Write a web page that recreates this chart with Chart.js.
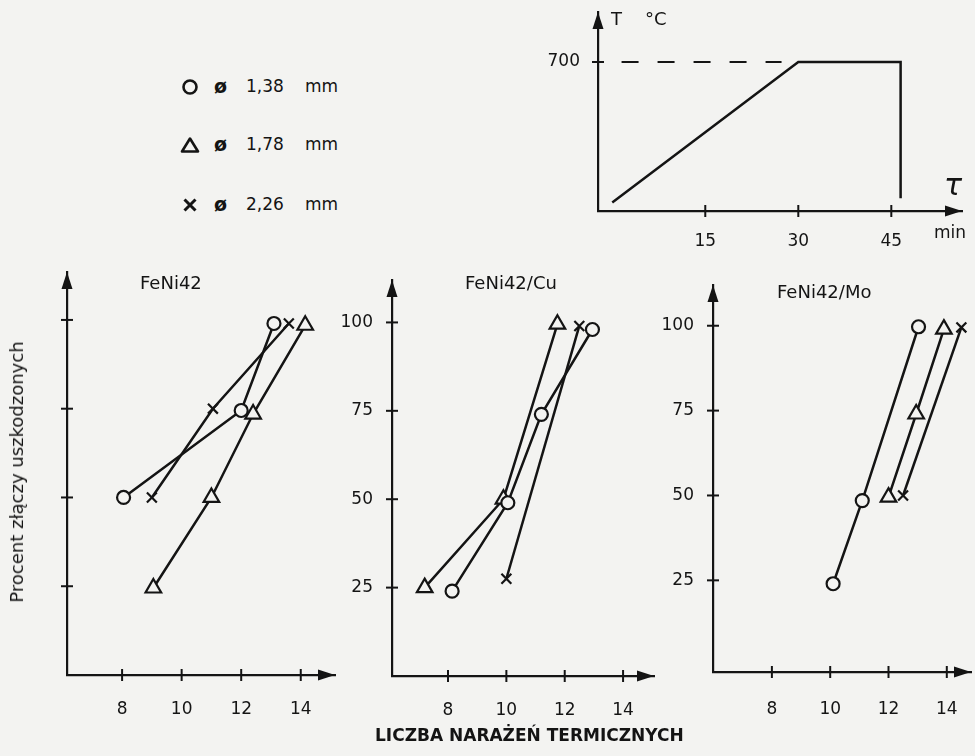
<!DOCTYPE html>
<html>
<head>
<meta charset="utf-8">
<script src="https://cdn.jsdelivr.net/npm/chart.js@4.4.1/dist/chart.umd.min.js"></script>
<style>
  html, body { margin:0; padding:0; }
  body { width:975px; height:756px; background:#f3f3f1; position:relative; overflow:hidden;
         font-family:"DejaVu Sans", sans-serif; color:#141414; }
  canvas { position:absolute; }
  .t { position:absolute; white-space:nowrap; line-height:1; }
  svg { position:absolute; }
</style>
</head>
<body>
<script>
// ---------- data ----------
const xTickValues = [8, 10, 12, 14];
const yTickValues = [25, 50, 75, 100];

const seriesNames = ['ø 1,38 mm', 'ø 1,78 mm', 'ø 2,26 mm'];

// FeNi42
const feni42_d138_x = [8.05, 12.0, 13.1];
const feni42_d138_y = [50, 74.5, 99];
const feni42_d178_x = [9.05, 11.0, 12.4, 14.15];
const feni42_d178_y = [24.5, 50, 73.5, 98.5];
const feni42_d226_x = [9.0, 11.05, 13.6];
const feni42_d226_y = [50, 75, 99];

// FeNi42/Cu
const cu_d138_x = [8.14, 10.05, 11.2, 12.95];
const cu_d138_y = [24, 49, 74, 98];
const cu_d178_x = [7.2, 9.9, 11.75];
const cu_d178_y = [25, 50, 99.5];
const cu_d226_x = [10.0, 12.5];
const cu_d226_y = [27.5, 99];

// FeNi42/Mo
const mo_d138_x = [10.1, 11.1, 13.03];
const mo_d138_y = [24, 48.5, 99.7];
const mo_d178_x = [12.0, 12.95, 13.9];
const mo_d178_y = [49.5, 74, 99];
const mo_d226_x = [12.5, 14.5];
const mo_d226_y = [50, 99.5];

// temperature profile (inset)
const profileTime = [0, 30, 46.5, 46.5];
const profileTemp = [40, 700, 700, 60];
const dashTime = [1.5, 27.3];
const dashTemp = [700, 700];
const insetXTicks = [15, 30, 45];
const insetYTicks = [700];

// ---------- styling ----------
const INK = '#141414';
const BG = '#f3f3f1';
const FONT = '"DejaVu Sans", sans-serif';

function pts(xs, ys) { return xs.map((x, i) => ({ x: x, y: ys[i] })); }

function seriesDS(xs, ys, style) {
  const r = style === 'triangle' ? 9 : (style === 'crossRot' ? 7 : 6.5);
  return {
    data: pts(xs, ys), showLine: true, borderColor: INK, borderWidth: 2.5,
    pointStyle: style, pointRadius: r, pointBorderWidth: 2.2,
    pointBorderColor: INK, pointBackgroundColor: BG, tension: 0
  };
}

const axisDeco = {
  id: 'axisDeco',
  afterDraw(chart, args, o) {
    const { ctx, chartArea: a, scales: { x, y } } = chart;
    ctx.save();
    ctx.strokeStyle = INK; ctx.fillStyle = INK; ctx.lineWidth = 2;
    y.ticks.forEach(t => {
      if (!o.yTicks.includes(t.value)) return;
      const p = y.getPixelForValue(t.value);
      ctx.beginPath(); ctx.moveTo(a.left - 6, p); ctx.lineTo(a.left + 6, p); ctx.stroke();
    });
    x.ticks.forEach(t => {
      if (!o.xTicks.includes(t.value)) return;
      const p = x.getPixelForValue(t.value);
      ctx.beginPath(); ctx.moveTo(p, a.bottom - 6); ctx.lineTo(p, a.bottom + 6); ctx.stroke();
    });
    const L = 17, W = 5.5;
    ctx.beginPath();
    ctx.moveTo(a.left, a.top); ctx.lineTo(a.left - W, a.top + L); ctx.lineTo(a.left + W, a.top + L); ctx.closePath(); ctx.fill();
    ctx.beginPath();
    ctx.moveTo(a.right, a.bottom); ctx.lineTo(a.right - L, a.bottom - W); ctx.lineTo(a.right - L, a.bottom + W); ctx.closePath(); ctx.fill();
    ctx.restore();
  }
};

function makeChart(area, xr, yr, datasets, xt, yt, showYLabels, fontSize, xPad, yPad) {
  const padL = 80, padT = 30, padR = 24, padB = 50;
  const c = document.createElement('canvas');
  const w = area.r - area.l + padL + padR;
  const h = area.b - area.t + padT + padB;
  c.width = w; c.height = h;
  c.style.width = w + 'px'; c.style.height = h + 'px';
  c.style.left = (area.l - padL) + 'px';
  c.style.top = (area.t - padT) + 'px';
  document.body.appendChild(c);
  return new Chart(c, {
    type: 'scatter',
    data: { datasets: datasets },
    options: {
      responsive: false, animation: false, devicePixelRatio: 1,
      layout: { padding: { top: padT, right: padR, left: 0, bottom: 0 }, autoPadding: false },
      plugins: { legend: { display: false }, tooltip: { enabled: false }, axisDeco: { xTicks: xt, yTicks: yt } },
      scales: {
        x: {
          type: 'linear', min: xr[0], max: xr[1],
          afterFit(s) { s.height = padB; },
          afterBuildTicks(s) { s.ticks = xt.map(v => ({ value: v })); },
          grid: { display: false },
          border: { display: true, color: INK, width: 2.2 },
          ticks: { color: INK, padding: xPad, font: { family: FONT, size: fontSize }, maxRotation: 0, autoSkip: false }
        },
        y: {
          type: 'linear', min: yr[0], max: yr[1],
          afterFit(s) { s.width = padL; },
          afterBuildTicks(s) { s.ticks = yt.map(v => ({ value: v })); },
          grid: { display: false },
          border: { display: true, color: INK, width: 2.2 },
          ticks: { color: showYLabels ? INK : 'rgba(0,0,0,0)', padding: yPad, font: { family: FONT, size: fontSize }, autoSkip: false }
        }
      }
    },
    plugins: [axisDeco]
  });
}

// Panel 1: FeNi42
makeChart({ l: 67, r: 335, t: 272, b: 675 }, [6.15, 15.15], [0, 113.5], [
  seriesDS(feni42_d138_x, feni42_d138_y, 'circle'),
  seriesDS(feni42_d178_x, feni42_d178_y, 'triangle'),
  seriesDS(feni42_d226_x, feni42_d226_y, 'crossRot')
], xTickValues, yTickValues, false, 17, 16, 11);

// Panel 2: FeNi42/Cu
makeChart({ l: 392, r: 654, t: 280, b: 676 }, [6.08, 15.06], [0, 112], [
  seriesDS(cu_d138_x, cu_d138_y, 'circle'),
  seriesDS(cu_d178_x, cu_d178_y, 'triangle'),
  seriesDS(cu_d226_x, cu_d226_y, 'crossRot')
], xTickValues, yTickValues, true, 17, 16, 11);

// Panel 3: FeNi42/Mo
makeChart({ l: 713, r: 971, t: 285, b: 672 }, [5.98, 14.83], [-2, 112], [
  seriesDS(mo_d138_x, mo_d138_y, 'circle'),
  seriesDS(mo_d178_x, mo_d178_y, 'triangle'),
  seriesDS(mo_d226_x, mo_d226_y, 'crossRot')
], xTickValues, yTickValues, true, 17, 19, 11);

// Inset: temperature profile
makeChart({ l: 598, r: 962, t: 12, b: 211 }, [-2.3, 56.4], [0, 935], [
  { data: pts(profileTime, profileTemp), showLine: true, borderColor: INK, borderWidth: 2.5, pointRadius: 0, tension: 0 },
  { data: pts(dashTime, dashTemp), showLine: true, borderColor: INK, borderWidth: 2.2, borderDash: [17, 19], pointRadius: 0 }
], insetXTicks, insetYTicks, true, 17, 12, 10);

// ---------- text ----------
function txt(s, x, y, style) {
  const d = document.createElement('div');
  d.className = 't'; d.textContent = s;
  d.style.left = x + 'px'; d.style.top = y + 'px';
  Object.assign(d.style, style || {});
  document.body.appendChild(d);
  return d;
}
txt('FeNi42', 140, 274, { fontSize: '18px' });
txt('FeNi42/Cu', 465, 274, { fontSize: '18px' });
txt('FeNi42/Mo', 777, 283, { fontSize: '18px' });
txt('LICZBA NARAŻEŃ TERMICZNYCH', 375, 727, { fontSize: '17px', fontWeight: 'bold' });
const yt = txt('Procent złączy uszkodzonych', 0, 0, { fontSize: '18px' });
yt.style.left = '17px'; yt.style.top = '472px';
yt.style.transform = 'translate(-50%,-50%) rotate(-90deg)';
txt('T', 611, 10, { fontSize: '18px' });
txt('°C', 645, 10, { fontSize: '18px' });
txt('τ', 944, 170, { fontSize: '30px', fontStyle: 'italic' });
txt('min', 934, 224, { fontSize: '17px' });

// legend
const legendRows = [87, 145, 205];
const NS = 'http://www.w3.org/2000/svg';
function sym(kind, cx, cy) {
  const s = document.createElementNS(NS, 'svg');
  s.setAttribute('width', 24); s.setAttribute('height', 24);
  s.style.left = (cx - 12) + 'px'; s.style.top = (cy - 12) + 'px';
  let el;
  if (kind === 0) {
    el = document.createElementNS(NS, 'circle');
    el.setAttribute('cx', 12); el.setAttribute('cy', 12); el.setAttribute('r', 6.5);
  } else if (kind === 1) {
    el = document.createElementNS(NS, 'polygon');
    el.setAttribute('points', '4,18.5 12,5.5 20,18.5');
  } else {
    el = document.createElementNS(NS, 'path');
    el.setAttribute('d', 'M6.5,6.5 L17.5,17.5 M17.5,6.5 L6.5,17.5');
  }
  el.setAttribute('fill', 'none'); el.setAttribute('stroke', INK);
  el.setAttribute('stroke-width', kind === 2 ? 3 : 2.6);
  el.setAttribute('stroke-linejoin', 'round');
  s.appendChild(el);
  document.body.appendChild(s);
}
legendRows.forEach((yy, i) => {
  sym(i, 190, yy);
  const parts = seriesNames[i].split(' ');
  txt(parts[0], 214, yy - 10, { fontSize: '19px', fontWeight: 'bold' });
  txt(parts[1], 246, yy - 9, { fontSize: '17px' });
  txt(parts[2], 305, yy - 9, { fontSize: '17px' });
});
</script>
</body>
</html>
